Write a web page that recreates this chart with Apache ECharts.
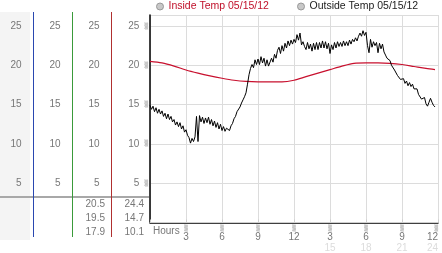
<!DOCTYPE html>
<html>
<head>
<meta charset="utf-8">
<script src="https://cdn.jsdelivr.net/npm/echarts@6/dist/echarts.min.js"></script>
<style>
html,body{margin:0;padding:0;background:#fff;}
#c{width:442px;height:253px;}
</style>
</head>
<body>
<div id="c"></div>
<script>
// ---- data ----
const seriesNames = ['Inside Temp 05/15/12', 'Outside Temp 05/15/12'];
const xTickLabels = ['Hours', '3', '6', '9', '12', '3', '6', '9', '12'];
const xTickLabels24 = ['', '', '', '', '', '15', '18', '21', '24'];
const yTickLabels = ['5', '10', '15', '20', '25'];
const insideStats = ['20.5', '19.5', '17.9'];
const outsideStats = ['24.4', '14.7', '10.1'];

const insideHours = [0,1,2,3,4,5,6,7,8,9,10,11,12,13,14,15,16,17,18,19,20,21,22,23,23.75];
const insideTemps = [20.5,20.3,19.9,19.4,19.0,18.65,18.35,18.1,17.95,17.9,17.9,17.9,18.1,18.55,19.0,19.45,19.9,20.25,20.3,20.3,20.25,20.1,19.85,19.6,19.45];

// outside temperature, one row per hour, 8 readings per hour (every 7.5 min)
const outsideByHour = [
  [14.9,14.4,14.8,14.1,14.6,13.9,14.4,13.8],
  [14.2,13.5,13.9,13.2,13.8,13.1,13.5,12.8],
  [13.1,12.4,12.8,12.2,12.7,11.9,12.3,11.5],
  [11.8,11.1,10.8,10.1,10.7,10.3,10.9,13.5],
  [10.3,13.6,12.8,13.4,12.6,13.3,12.7,13.4],
  [12.5,13.1,12.3,12.9,12.1,12.7,11.9,12.5],
  [11.7,12.2,11.6,12.0,11.9,11.7,12.3,12.6],
  [13.2,13.5,14.1,14.0,14.7,15.2,15.6,16.0],
  [16.5,17.6,18.8,19.6,20.1,19.7,20.7,20.1],
  [20.8,20.1,21.1,20.3,20.9,19.9,20.7,19.9],
  [19.8,20.9,20.4,21.4,20.9,21.9,22.3,21.5],
  [22.5,21.8,22.8,22.2,23.1,22.5,23.2,22.7],
  [23.3,22.9,23.9,23.2,24.1,22.6,23.0,22.4],
  [22.0,22.9,22.1,22.7,21.8,22.8,22.0,22.9],
  [22.0,22.9,22.2,23.1,22.2,23.0,22.1,22.8],
  [21.5,22.6,22.0,22.9,22.2,23.0,22.4,22.9],
  [22.4,23.1,22.5,23.0,22.5,23.2,22.7,23.3],
  [23.0,23.5,23.1,23.7,24.1,23.7,24.4,23.8],
  [24.2,22.5,21.6,23.3,22.3,23.0,22.5,22.9],
  [21.6,22.8,22.1,22.7,21.7,21.3,20.9,20.8],
  [20.6,20.0,19.9,19.4,19.3,18.7,18.7,18.2],
  [18.1,18.3,17.7,18.0,17.4,17.8,17.3,17.6],
  [17.0,16.9,17.0,16.3,16.3,15.7,15.7,15.9],
  [15.1,14.8,15.3,15.8,15.3,14.9,14.7]
];

// ---- build ----
const insideData = insideHours.map((h, i) => [h, insideTemps[i]]);
const outsideData = [];
outsideByHour.forEach((row, h) => row.forEach((v, k) => outsideData.push([h + k / 8, v])));

const FONT = "'Liberation Sans', Arial, sans-serif";
const LABEL_GRAY = '#777';
const MARK = '\u2592';
const colLines = [
  {x: 33.5, color: '#2a48b0'},
  {x: 72.5, color: '#3a9a3a'},
  {x: 111.5, color: '#b03030'}
];

function yLabel(v) { return yTickLabels.indexOf(String(v)) >= 0 ? String(v) : ''; }

function sideAxis(offset) {
  return {
    type: 'value', position: 'left', offset: offset, min: 0, max: 26.4, interval: 5,
    axisLine: {show: false}, axisTick: {show: false}, splitLine: {show: false},
    axisLabel: {margin: 12, color: LABEL_GRAY, fontSize: 10, fontFamily: FONT, formatter: yLabel}
  };
}

const graphics = [
  {type: 'rect', shape: {x: 0, y: 12, width: 30, height: 228}, style: {fill: '#f4f4f4'}, z: -10},
  {type: 'line', shape: {x1: 0, y1: 197, x2: 149, y2: 197}, style: {stroke: '#a8a8a8', lineWidth: 2}, z: 5}
];
colLines.forEach(c => graphics.push({type: 'line', shape: {x1: c.x, y1: 12, x2: c.x, y2: 237}, style: {stroke: c.color, lineWidth: 1}, z: 6}));
insideStats.forEach((s, i) => graphics.push({type: 'text', x: 105, y: 204.5 + i * 14, style: {text: s, fill: LABEL_GRAY, font: '10px ' + FONT, textAlign: 'right', textVerticalAlign: 'middle'}}));
outsideStats.forEach((s, i) => graphics.push({type: 'text', x: 144, y: 204.5 + i * 14, style: {text: s, fill: LABEL_GRAY, font: '10px ' + FONT, textAlign: 'right', textVerticalAlign: 'middle'}}));

const chart = echarts.init(document.getElementById('c'), null, {renderer: 'canvas'});
chart.setOption({
  animation: false,
  backgroundColor: '#fff',
  textStyle: {fontFamily: FONT},
  legend: [
    {data: [{name: seriesNames[0], textStyle: {color: '#c0102a'}}], left: 156, top: 0, icon: 'circle', itemWidth: 7, itemHeight: 7,
     itemStyle: {color: '#c8c8c8', borderColor: '#999', borderWidth: 1}, textStyle: {fontSize: 10.5, fontFamily: FONT}, padding: [1, 0, 0, 0]},
    {data: [{name: seriesNames[1], textStyle: {color: '#222'}}], left: 297, top: 0, icon: 'circle', itemWidth: 7, itemHeight: 7,
     itemStyle: {color: '#c8c8c8', borderColor: '#999', borderWidth: 1}, textStyle: {fontSize: 10.5, fontFamily: FONT}, padding: [1, 0, 0, 0]}
  ],
  grid: {left: 150, right: 4, top: 15, bottom: 27, containLabel: false},
  xAxis: [
    {
      type: 'value', position: 'bottom', min: 0, max: 24, interval: 3,
      axisLine: {show: true, lineStyle: {color: '#000', width: 1.5}},
      axisTick: {show: false},
      splitLine: {show: true, lineStyle: {color: '#dcdcdc', width: 1}},
      axisLabel: {
        show: true, interval: 0, margin: 2, alignMinLabel: 'left', alignMaxLabel: 'right',
        formatter: function (v) {
          const i = Math.round(v / 3);
          if (i === 0) return '{h|' + xTickLabels[0] + '}';
          let s = '{m|' + MARK + '}\n{n|' + xTickLabels[i] + '}';
          if (xTickLabels24[i]) s += '\n{f|' + xTickLabels24[i] + '}';
          return s;
        },
        rich: {
          h: {fontSize: 10, lineHeight: 13, color: LABEL_GRAY, fontFamily: FONT, padding: [0, 0, 0, 3]},
          m: {fontSize: 6, lineHeight: 8, color: '#999', fontFamily: "'DejaVu Sans Mono', monospace"},
          n: {fontSize: 10, lineHeight: 10, color: LABEL_GRAY, fontFamily: FONT},
          f: {fontSize: 10, lineHeight: 11, color: '#dcdcdc', fontFamily: FONT}
        }
      }
    },
    {
      type: 'value', position: 'top', min: 0, max: 24, interval: 3,
      axisLine: {show: true, lineStyle: {color: '#cfcfcf'}},
      axisTick: {show: true, length: 3, lineStyle: {color: '#cfcfcf'}},
      axisLabel: {show: false}, splitLine: {show: false}
    }
  ],
  yAxis: [
    {
      type: 'value', position: 'left', min: 0, max: 26.4, interval: 5,
      axisLine: {show: true, lineStyle: {color: '#000', width: 1.5}},
      axisTick: {show: false},
      splitLine: {show: true, lineStyle: {color: '#dcdcdc', width: 1}},
      axisLabel: {
        margin: 2, fontFamily: FONT,
        formatter: function (v) { const t = yLabel(v); return t ? '{v|' + t + '}{m|' + MARK + '}' : ''; },
        rich: {v: {fontSize: 10, color: LABEL_GRAY, fontFamily: FONT},
               m: {fontSize: 6, color: '#999', padding: [0, 0, 0, 5], fontFamily: "'DejaVu Sans Mono', monospace"}}
      }
    },
    sideAxis(38.5),
    sideAxis(77.5),
    sideAxis(116.5)
  ],
  series: [
    {name: seriesNames[0], type: 'line', data: insideData, showSymbol: false, smooth: 0.3,
     lineStyle: {color: '#c8102e', width: 1.2}, itemStyle: {color: '#c8102e'}, z: 3},
    {name: seriesNames[1], type: 'line', data: outsideData, showSymbol: false, smooth: false,
     lineStyle: {color: '#000', width: 1}, itemStyle: {color: '#000'}, z: 4}
  ],
  graphic: graphics
});
</script>
</body>
</html>
